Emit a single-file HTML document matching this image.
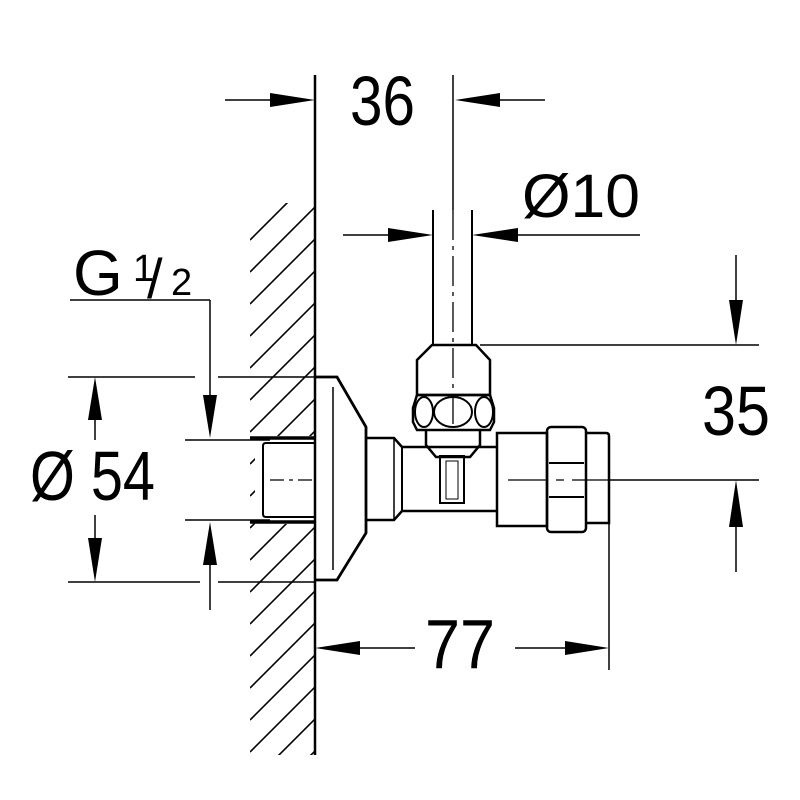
<!DOCTYPE html>
<html><head><meta charset="utf-8"><style>
html,body{margin:0;padding:0;background:#fff;}
svg{display:block;}
text{font-family:"Liberation Sans",sans-serif;fill:#000;}
</style></head><body>
<svg width="800" height="800" viewBox="0 0 800 800" xmlns="http://www.w3.org/2000/svg">
<defs>
<clipPath id="hc"><rect x="250" y="203" width="65" height="552"/></clipPath>
</defs>
<g stroke="#000" fill="none">
<g clip-path="url(#hc)" stroke-width="1.6">
<path d="M250 240 L320 170 M250 272 L320 202 M250 304 L320 234 M250 336 L320 266 M250 368 L320 298 M250 400 L320 330 M250 432 L320 362 M250 464 L320 394 M250 496 L320 426 M250 528 L320 458 M250 560 L320 490 M250 592 L320 522 M250 624 L320 554 M250 656 L320 586 M250 688 L320 618 M250 720 L320 650 M250 752 L320 682 M250 784 L320 714 M250 816 L320 746"/>
</g>
<rect x="255" y="436" width="60" height="88" fill="#fff" stroke="none"/>
<line x1="315" y1="75" x2="315" y2="755" stroke-width="2.5"/>
<line x1="250" y1="438" x2="315" y2="438" stroke-width="3.5"/>
<line x1="250" y1="522" x2="315" y2="522" stroke-width="3.5"/>
<path d="M315 443 L266 443 Q263 443 263 446 L263 514 Q263 517 266 517 L315 517" stroke-width="2"/>
<path d="M315 377 L337 377 L366 427 L366 533 L337 580 L315 580" stroke-width="2.8"/>
<line x1="333" y1="387" x2="333" y2="570" stroke-width="1.5"/>
<path d="M366 438 L394 438 L402 447 L497 447 M366 520 L394 520 L402 511 L497 511" stroke-width="2.5"/>
<line x1="394" y1="438" x2="394" y2="520" stroke-width="1.5"/>
<line x1="402" y1="447" x2="402" y2="511" stroke-width="2"/>
<rect x="497" y="433" width="50" height="93" stroke-width="2.5"/>
<rect x="547" y="427" width="39" height="105" rx="4" stroke-width="2.5"/>
<line x1="549" y1="463" x2="584" y2="463" stroke-width="2"/>
<line x1="549" y1="497" x2="584" y2="497" stroke-width="2"/>
<path d="M586 433 L606 433 Q609 433 609 436 L609 523 L586 523" stroke-width="2.5"/>
<line x1="433" y1="210" x2="433" y2="345" stroke-width="2"/>
<line x1="472" y1="210" x2="472" y2="345" stroke-width="2"/>
<path d="M417 360 L432 345 L476 345 L490 360 L490 395 L417 395 Z" stroke-width="2.5"/>
<path d="M417 395 L490 395 L494 408 L494 422 L490 430 L417 430 L413 422 L413 408 Z" stroke-width="2.5"/>
<ellipse cx="453" cy="412" rx="19" ry="15" stroke-width="2"/>
<ellipse cx="424" cy="412" rx="9" ry="15" stroke-width="2"/>
<ellipse cx="484" cy="412" rx="9" ry="15" stroke-width="2"/>
<path d="M426 430 L426 445 L436 457 L470 457 L480 445 L480 430" stroke-width="2.5"/>
<rect x="440" y="456" width="24" height="47" stroke-width="2"/>
<rect x="446" y="461" width="12" height="38" stroke-width="1"/>
<line x1="453" y1="75" x2="453" y2="210" stroke-width="1.5"/>
<line x1="453" y1="210" x2="453" y2="430" stroke-width="1.3" stroke-dasharray="30,6,4,6"/>
<line x1="270" y1="480" x2="315" y2="480" stroke-width="1.3" stroke-dasharray="14,5,4,5"/>
<line x1="508" y1="480" x2="609" y2="480" stroke-width="1.3" stroke-dasharray="40,8,8,8"/>
<line x1="609" y1="480" x2="759" y2="480" stroke-width="1.5"/>
<g stroke-width="1.5">
<line x1="225" y1="100" x2="270" y2="100"/>
<line x1="500" y1="100" x2="545" y2="100"/>
<line x1="343" y1="235" x2="390" y2="235"/>
<line x1="516" y1="235" x2="640" y2="235"/>
<line x1="70" y1="300" x2="210" y2="300"/>
<line x1="210" y1="300" x2="210" y2="395"/>
<line x1="210" y1="565" x2="210" y2="610"/>
<line x1="68" y1="377" x2="195" y2="377"/>
<line x1="218" y1="377" x2="315" y2="377"/>
<line x1="68" y1="582" x2="200" y2="582"/>
<line x1="218" y1="582" x2="315" y2="582"/>
<line x1="185" y1="440" x2="270" y2="440"/>
<line x1="185" y1="520" x2="270" y2="520"/>
<line x1="95" y1="420" x2="95" y2="440"/>
<line x1="95" y1="515" x2="95" y2="538"/>
<line x1="480" y1="345" x2="759" y2="345"/>
<line x1="736" y1="255" x2="736" y2="300"/>
<line x1="736" y1="527" x2="736" y2="572"/>
<line x1="609" y1="523" x2="609" y2="670"/>
<line x1="360" y1="648" x2="415" y2="648"/>
<line x1="515" y1="648" x2="565" y2="648"/>
</g>
</g>
<g fill="#000">
<polygon points="315,100 270,93 270,107"/>
<polygon points="455,100 500,93 500,107"/>
<polygon points="433,235 388,228 388,242"/>
<polygon points="472,235 518,228 518,242"/>
<polygon points="210,438 203,395 217,395"/>
<polygon points="210,522 203,565 217,565"/>
<polygon points="95,377 88,420 102,420"/>
<polygon points="95,582 88,538 102,538"/>
<polygon points="736,345 729,300 743,300"/>
<polygon points="736,480 729,527 743,527"/>
<polygon points="315,648 360,641 360,655"/>
<polygon points="609,648 565,641 565,655"/>
</g>
<text x="350" y="125" font-size="70" textLength="65" lengthAdjust="spacingAndGlyphs">36</text>
<text x="522" y="217" font-size="61" textLength="118" lengthAdjust="spacingAndGlyphs">Ø10</text>
<text x="73" y="295" font-size="64">G</text>
<text x="133" y="281" font-size="38">1</text>
<text x="147" y="298" font-size="56">/</text>
<text x="171" y="295" font-size="38">2</text>
<text x="30" y="500" font-size="70" textLength="125" lengthAdjust="spacingAndGlyphs">Ø 54</text>
<text x="702" y="435" font-size="70" textLength="68" lengthAdjust="spacingAndGlyphs">35</text>
<text x="425" y="668" font-size="70" textLength="70" lengthAdjust="spacingAndGlyphs">77</text>
</svg>
</body></html>
